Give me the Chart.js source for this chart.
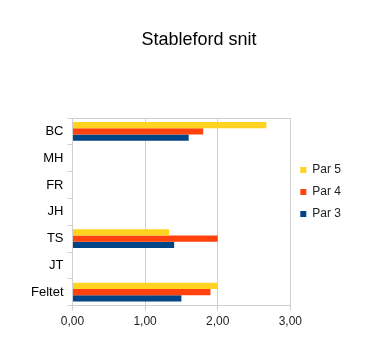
<!DOCTYPE html>
<html>
<head>
<meta charset="utf-8">
<script src="https://cdn.jsdelivr.net/npm/chart.js@4"></script>
<style>
  html, body { margin: 0; padding: 0; background: #fff; }
  #wrap { width: 366px; height: 347px; }
</style>
</head>
<body>
<div id="wrap"><canvas id="chart"></canvas></div>
<script>
const players = ["BC", "MH", "FR", "JH", "TS", "JT", "Feltet"];
const par5 = [2.67, null, null, null, 1.33, null, 2.0];
const par4 = [1.8, null, null, null, 2.0, null, 1.9];
const par3 = [1.6, null, null, null, 1.4, null, 1.5];

const chartTitle = "Stableford snit";
const gridGray = "#d0d0d0";
const fontFamily = "'Liberation Sans', Arial, sans-serif";

Chart.defaults.font.family = fontFamily;
Chart.defaults.color = "#000";

// the title sits a little right of the canvas centre, so it is drawn by hand
const titlePlugin = {
  id: "pageTitle",
  afterDraw(chart) {
    const { ctx } = chart;
    ctx.save();
    ctx.font = "18px " + fontFamily;
    ctx.fillStyle = "#000";
    ctx.textAlign = "center";
    ctx.textBaseline = "middle";
    ctx.fillText(chartTitle, 199, 40);
    ctx.restore();
  },
};

new Chart(document.getElementById("chart"), {
  type: "bar",
  data: {
    labels: players,
    datasets: [
      { label: "Par 5", data: par5, backgroundColor: "#ffd320" },
      { label: "Par 4", data: par4, backgroundColor: "#ff420e" },
      { label: "Par 3", data: par3, backgroundColor: "#004586" },
    ],
  },
  options: {
    indexAxis: "y",
    responsive: true,
    maintainAspectRatio: false,
    animation: false,
    categoryPercentage: 0.7,
    barPercentage: 1,
    layout: { padding: { left: 27, right: 15, top: 118, bottom: 14 } },
    plugins: {
      title: { display: false },
      legend: {
        position: "right",
        align: "start",
        // empty title only pushes the entries down a bit
        title: { display: true, text: "", font: { size: 10 }, padding: 12 },
        labels: {
          boxWidth: 6,
          boxHeight: 6,
          padding: 10,
          font: { size: 12 },
          color: "#222",
        },
      },
      tooltip: { enabled: false },
    },
    scales: {
      x: {
        min: 0,
        max: 3,
        ticks: {
          stepSize: 1,
          font: { size: 12 },
          color: "#222",
          padding: 4,
          callback: (v) => v.toFixed(2).replace(".", ","),
        },
        grid: { color: gridGray, tickLength: 5, lineWidth: 1 },
        border: { color: gridGray },
      },
      y: {
        ticks: { font: { size: 13 }, color: "#000", padding: 4 },
        grid: {
          color: (ctx) => (ctx.index === 0 ? gridGray : "transparent"),
          tickColor: gridGray,
          tickLength: 5,
        },
        border: { color: gridGray },
      },
    },
  },
  plugins: [titlePlugin],
});
</script>
</body>
</html>
